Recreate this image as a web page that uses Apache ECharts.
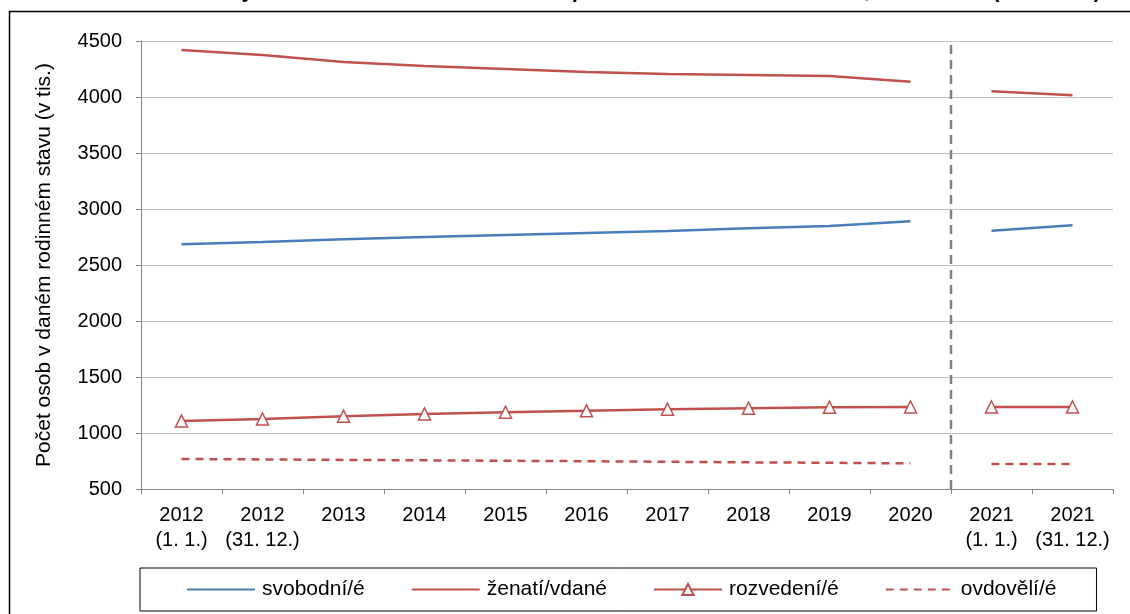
<!DOCTYPE html>
<html>
<head>
<meta charset="utf-8">
<script src="https://cdn.jsdelivr.net/npm/echarts@6/dist/echarts.min.js"></script>
<style>
  html, body { margin: 0; padding: 0; background: #fff; }
  #chart { width: 1130px; height: 614px; }
</style>
</head>
<body>
<div id="chart"></div>
<script>
// kategorie osy x
const categories = ['2012\n(1. 1.)', '2012\n(31. 12.)', '2013', '2014', '2015', '2016', '2017', '2018', '2019', '2020', '2021\n(1. 1.)', '2021\n(31. 12.)']
const yTicks = [500, 1000, 1500, 2000, 2500, 3000, 3500, 4000, 4500]

// hodnoty v tis. (2012–2020 a 2021 zvlášť)
const svobodni = [2685, 2705, 2730, 2750, 2768, 2786, 2804, 2828, 2848, 2890]
const svobodni2021 = [2806, 2854]
const zenati = [4420, 4375, 4312, 4277, 4250, 4223, 4205, 4196, 4187, 4137]
const zenati2021 = [4051, 4015]
const rozvedeni = [1107, 1125, 1150, 1170, 1186, 1198, 1212, 1222, 1230, 1232]
const rozvedeni2021 = [1232, 1232]
const ovdoveli = [768, 764, 760, 756, 752, 748, 743, 738, 734, 729]
const ovdoveli2021 = [723, 723]

// hranice mezi 2020 a 2021 (v jednotkách kategorií)
const separatorX = 10

const chart = echarts.init(document.getElementById('chart'))

const BLUE = '#4A7EBB'
const RED = '#C0504D'
const empty10 = new Array(10).fill(null)

function split(first, second) {
    return [first.concat([null, null]), empty10.concat(second)]
}

function lineSeries(name, data, extra) {
    return Object.assign({
        name: name,
        type: 'line',
        data: data,
        symbol: 'none',
        connectNulls: false,
        silent: true,
        lineStyle: { width: 2.5, color: RED },
        itemStyle: { color: RED },
        z: 3
    }, extra || {})
}

const [sv1, sv2] = split(svobodni, svobodni2021)
const [ze1, ze2] = split(zenati, zenati2021)
const [ro1, ro2] = split(rozvedeni, rozvedeni2021)
const [ov1, ov2] = split(ovdoveli, ovdoveli2021)

const blueStyle = { lineStyle: { width: 2.5, color: BLUE }, itemStyle: { color: BLUE } }
const triStyle = {
    symbol: 'triangle',
    symbolSize: 12,
    showSymbol: true,
    itemStyle: { color: '#fff', borderColor: RED, borderWidth: 1.5 }
}
const dashStyle = { lineStyle: { width: 2.5, color: RED, type: [8, 6] } }

// v legendě jen čára, bez kolečka
const noDot = { opacity: 0 }

chart.setOption({
    animation: false,
    textStyle: { fontFamily: 'Liberation Sans, Arial, sans-serif' },
    title: {
        text: 'Obyvatelstvo ve věku 15 a více let podle rodinného stavu v ČR, 2012–2021 (v tisících)',
        left: 206,
        top: -25,
        textStyle: { fontSize: 22, fontWeight: 'bold', color: '#000' }
    },
    graphic: [{
        type: 'rect',
        shape: { x: 9.5, y: 11.5, width: 1200, height: 700 },
        style: { fill: null, stroke: '#000', lineWidth: 1.5 },
        silent: true
    }],
    grid: { left: 141, right: 17, top: 41, bottom: 125 },
    legend: {
        data: [
            { name: 'svobodní/é', itemStyle: noDot },
            { name: 'ženatí/vdané', itemStyle: noDot },
            { name: 'rozvedení/é' },
            { name: 'ovdovělí/é', itemStyle: noDot }
        ],
        left: 140,
        top: 568,
        padding: [11, 40, 11, 46],
        itemWidth: 68,
        itemHeight: 14,
        itemGap: 46,
        borderColor: '#000',
        borderWidth: 1,
        textStyle: { fontSize: 21, color: '#000', padding: [0, 0, 0, 2] }
    },
    xAxis: [{
        type: 'category',
        data: categories,
        boundaryGap: true,
        axisLine: { lineStyle: { color: '#868686', width: 1 } },
        axisTick: { show: true, length: 5, inside: false, lineStyle: { color: '#868686' } },
        axisLabel: { fontSize: 20, color: '#000', margin: 14, lineHeight: 25, interval: 0 },
        splitLine: { show: false }
    }, {
        type: 'value',
        min: 0,
        max: categories.length,
        show: false
    }],
    yAxis: {
        type: 'value',
        min: yTicks[0],
        max: yTicks[yTicks.length - 1],
        interval: 500,
        name: 'Počet osob v daném rodinném stavu (v tis.)',
        nameLocation: 'middle',
        nameRotate: 90,
        nameGap: 86,
        nameTextStyle: { fontSize: 21, color: '#000' },
        axisLine: { show: true, lineStyle: { color: '#868686', width: 1 } },
        axisTick: { show: true, length: 5, lineStyle: { color: '#868686' } },
        axisLabel: { fontSize: 20, color: '#000', margin: 19, formatter: v => String(v) },
        splitLine: { lineStyle: { color: '#BFBFBF', width: 1 } }
    },
    series: [
        lineSeries('svobodní/é', sv1, blueStyle),
        lineSeries('svobodní/é', sv2, blueStyle),
        lineSeries('ženatí/vdané', ze1),
        lineSeries('ženatí/vdané', ze2),
        lineSeries('rozvedení/é', ro1, triStyle),
        lineSeries('rozvedení/é', ro2, triStyle),
        lineSeries('ovdovělí/é', ov1, dashStyle),
        lineSeries('ovdovělí/é', ov2, dashStyle),
        {
            name: 'oddělovač',
            type: 'line',
            xAxisIndex: 1,
            data: [[separatorX, yTicks[0]], [separatorX, yTicks[yTicks.length - 1]]],
            symbol: 'none',
            silent: true,
            lineStyle: { color: '#808080', width: 2.5, type: [9, 6] },
            z: 2
        }
    ]
})
</script>
</body>
</html>
